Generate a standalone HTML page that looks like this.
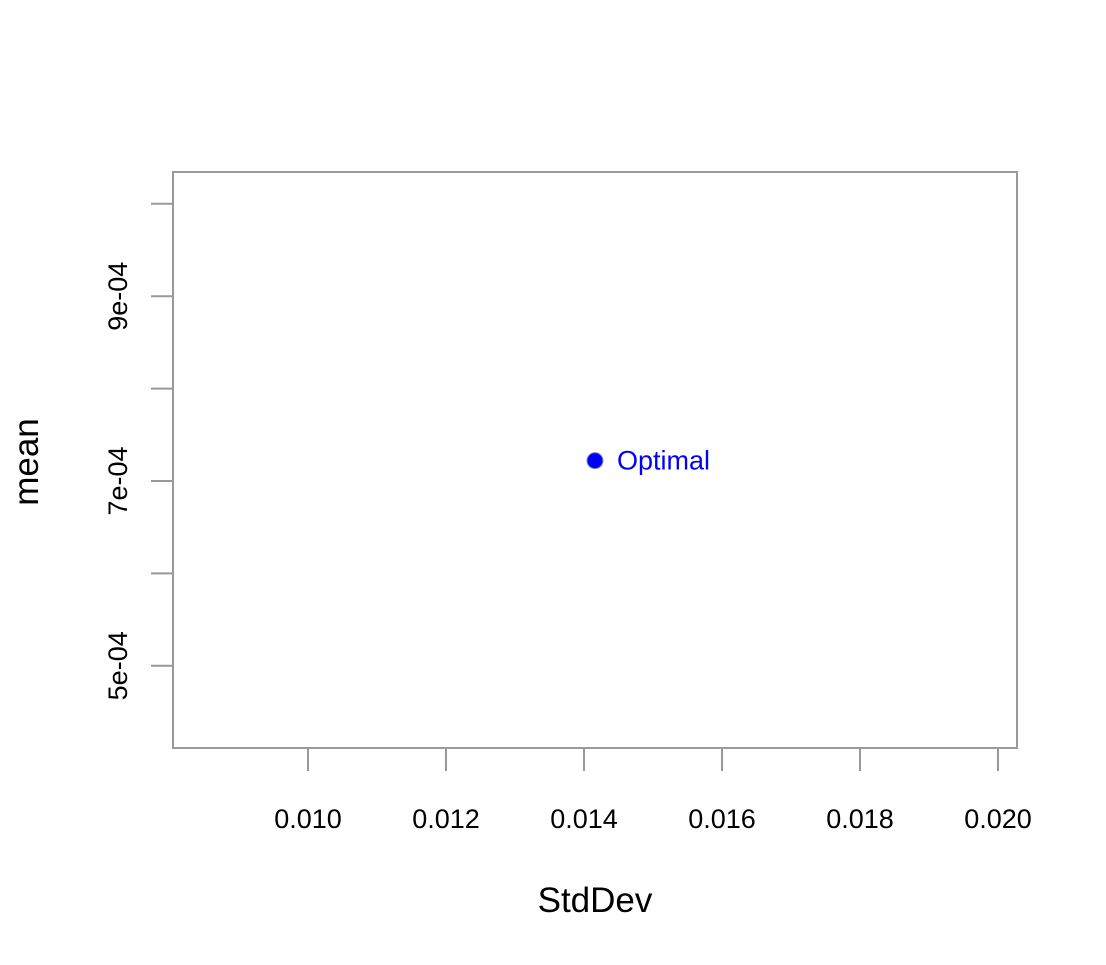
<!DOCTYPE html>
<html><head><meta charset="utf-8">
<style>
html,body{margin:0;padding:0;background:#fff;}
svg{display:block;font-family:"Liberation Sans",Arial,sans-serif;}
</style></head>
<body>
<svg id="chart" width="1106" height="965" viewBox="0 0 1106 965" xmlns="http://www.w3.org/2000/svg">
<rect x="173" y="172" width="844" height="576" fill="none" stroke="#999" stroke-width="2"/>
<g id="xaxis"></g>
<g id="yaxis"></g>
<g id="points"></g>
<text x="595" y="912" font-size="35" text-anchor="middle" fill="#000">StdDev</text>
<text transform="translate(38,462) rotate(-90)" font-size="35" text-anchor="middle" fill="#000">mean</text>
</svg>
<script>
const xTicks = [0.010, 0.012, 0.014, 0.016, 0.018, 0.020];
const xTickLabels = ["0.010", "0.012", "0.014", "0.016", "0.018", "0.020"];
const yTicks = [0.0005, 0.0006, 0.0007, 0.0008, 0.0009, 0.0010];
const yTickLabels = ["5e-04", "", "7e-04", "", "9e-04", ""];
const pointNames = ["Optimal"];
const pointX = [0.014159];
const pointY = [0.000722];

const NS = "http://www.w3.org/2000/svg";
function sx(v){ return 308 + (v - 0.010) / 0.002 * 138; }
function sy(v){ return 481 - (v - 0.0007) / 0.0001 * 92.4; }
function mk(tag, attrs, parent){
  const e = document.createElementNS(NS, tag);
  for (const k in attrs) e.setAttribute(k, attrs[k]);
  parent.appendChild(e);
  return e;
}
const xg = document.getElementById("xaxis");
xTicks.forEach((v, i) => {
  const x = sx(v);
  const t = mk("line", {x1:x, x2:x, y1:748, y2:771, stroke:"#999", "stroke-width":2}, xg);
  
  
  const l = mk("text", {x:x, y:828, "font-size":27, "text-anchor":"middle", fill:"#000"}, xg);
  l.textContent = xTickLabels[i];
  
  
});
const yg = document.getElementById("yaxis");
yTicks.forEach((v, i) => {
  const y = sy(v);
  const t = mk("line", {x1:151, x2:173, y1:y, y2:y, stroke:"#999", "stroke-width":2}, yg);
  
  
  if (yTickLabels[i]) {
    const l = mk("text", {transform:"translate(127," + y + ") rotate(-90)", "font-size":27, "text-anchor":"middle", fill:"#000"}, yg);
    l.textContent = yTickLabels[i];
    
    
  }
});
const pg = document.getElementById("points");
pointNames.forEach((n, i) => {
  const x = sx(pointX[i]), y = sy(pointY[i]);
  const c = mk("circle", {cx:x, cy:y, r:8, fill:"#0000ff", stroke:"#8888cc", "stroke-width":1}, pg);
  
  
  const l = mk("text", {x:x + 22, y:y + 9, "font-size":27, fill:"#0000ff"}, pg);
  l.textContent = n;
  
  
});
</script>
</body></html>
